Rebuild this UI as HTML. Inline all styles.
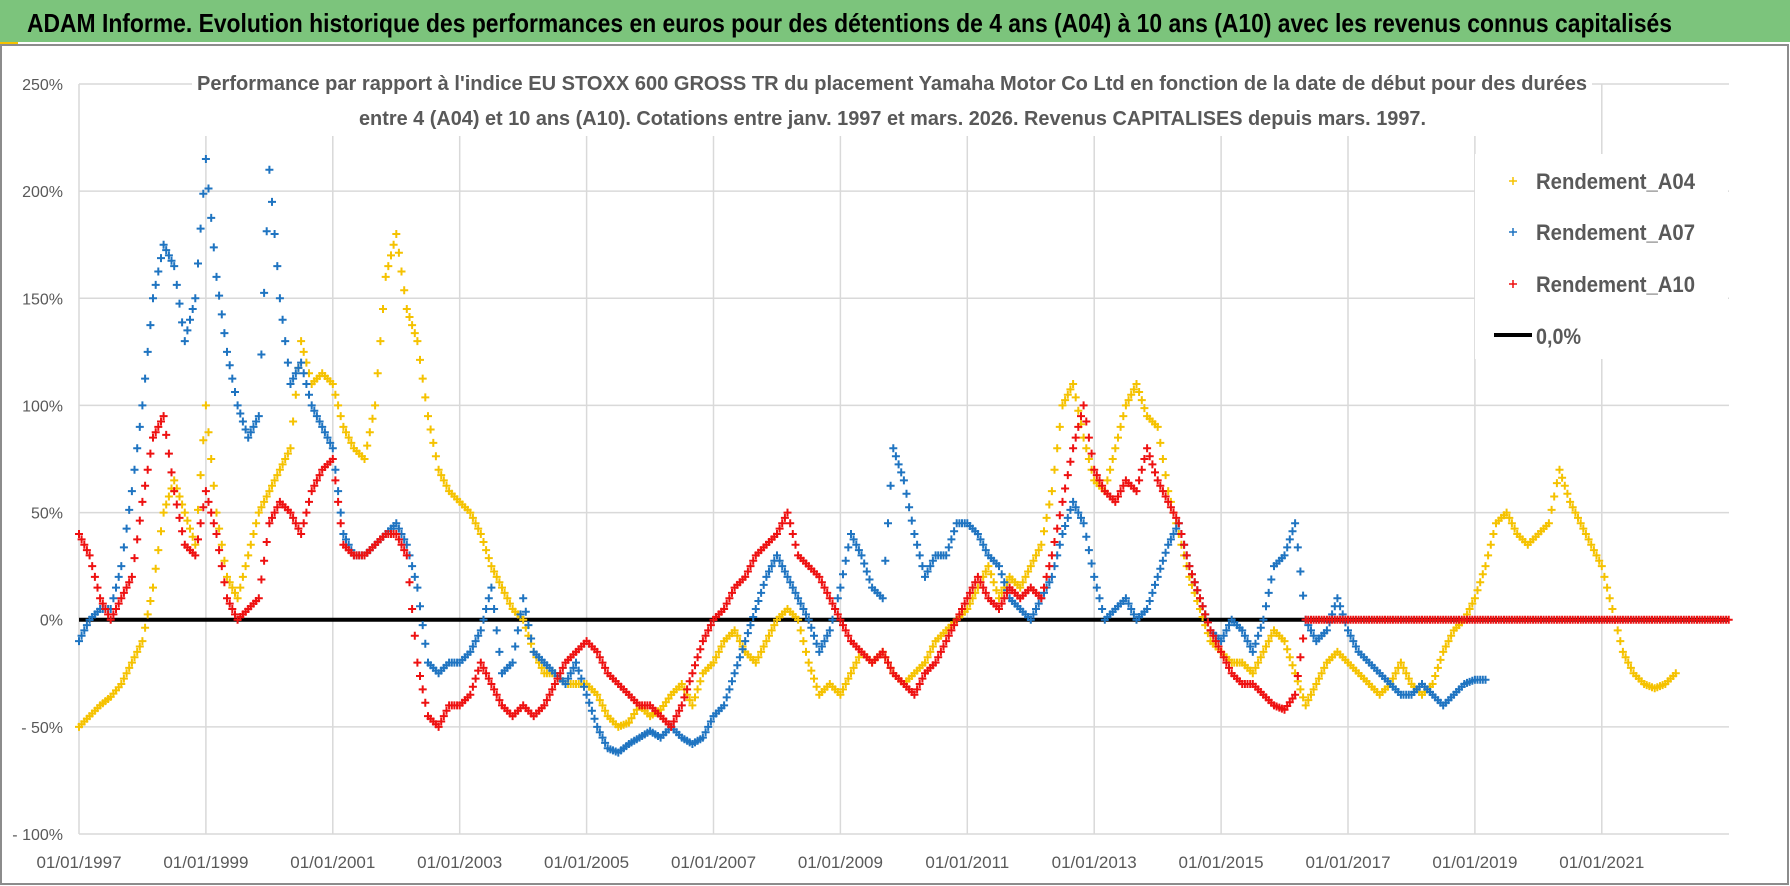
<!DOCTYPE html>
<html><head><meta charset="utf-8">
<style>
html,body{margin:0;padding:0;background:#fff;}
svg{display:block;font-family:"Liberation Sans Narrow","Liberation Sans",sans-serif;}
</style></head>
<body>
<svg id="chart" width="1790" height="886" viewBox="0 0 1790 886" xmlns="http://www.w3.org/2000/svg">
  <rect x="0" y="0" width="1790" height="886" fill="#ffffff"/>
  <rect x="0" y="0" width="1790" height="42" fill="#7cc47c"/>
  <rect x="0" y="42" width="18" height="3" fill="#f5c200"/>
  <text x="27" y="32" font-size="26" font-weight="bold" fill="#000" textLength="1645" lengthAdjust="spacingAndGlyphs">ADAM Informe. Evolution historique des performances en euros pour des détentions de 4 ans (A04) à 10 ans (A10) avec les revenus connus capitalisés</text>
  <rect x="1" y="45" width="1787" height="839" fill="none" stroke="#8c8c8c" stroke-width="2"/>
  <g id="grid"></g>
  <g id="yaxis"></g>
  <g id="xaxis"></g>
  <rect x="192" y="66" width="1400" height="70" fill="#fff"/>
  <text x="197" y="90" font-size="20" font-weight="bold" fill="#595959" textLength="1390" lengthAdjust="spacingAndGlyphs">Performance par rapport à l'indice EU STOXX 600 GROSS TR  du placement Yamaha Motor Co Ltd en fonction de la date de début pour des durées</text>
  <text x="359" y="125" font-size="20" font-weight="bold" fill="#595959" textLength="1067" lengthAdjust="spacingAndGlyphs">entre 4 (A04) et 10 ans (A10). Cotations entre janv. 1997 et mars. 2026. Revenus CAPITALISES depuis mars. 1997.</text>
  <g id="series"></g>
  <g>
    <rect x="1475" y="154" width="253" height="205" fill="#fff"/>
    <g>
      <path d="M1509 181h8M1513 177v8" stroke="#f5c200" stroke-width="1.5"/>
      <text x="1536" y="189" font-size="22" font-weight="bold" fill="#595959" textLength="159" lengthAdjust="spacingAndGlyphs">Rendement_A04</text>
    </g>
    <g>
      <path d="M1509 232h8M1513 228v8" stroke="#1f74c1" stroke-width="1.5"/>
      <text x="1536" y="240" font-size="22" font-weight="bold" fill="#595959" textLength="159" lengthAdjust="spacingAndGlyphs">Rendement_A07</text>
    </g>
    <g>
      <path d="M1509 284h8M1513 280v8" stroke="#ee1111" stroke-width="1.5"/>
      <text x="1536" y="292" font-size="22" font-weight="bold" fill="#595959" textLength="159" lengthAdjust="spacingAndGlyphs">Rendement_A10</text>
    </g>
    <g>
      <line x1="1494" y1="335" x2="1532" y2="335" stroke="#000" stroke-width="4"/>
      <text x="1536" y="344" font-size="22" font-weight="bold" fill="#595959" textLength="45" lengthAdjust="spacingAndGlyphs">0,0%</text>
    </g>
  </g>
</svg>
<script>
const NS = "http://www.w3.org/2000/svg";
const startYear = 1997;
const stepYears = 1/6;
const yTicks = [250, 200, 150, 100, 50, 0, -50, -100];
const yTickLabels = ["250%", "200%", "150%", "100%", "50%", "0%", "- 50%", "- 100%"];
const xTickYears = [1997, 1999, 2001, 2003, 2005, 2007, 2009, 2011, 2013, 2015, 2017, 2019, 2021];
const xTickLabels = ["01/01/1997","01/01/1999","01/01/2001","01/01/2003","01/01/2005","01/01/2007","01/01/2009","01/01/2011","01/01/2013","01/01/2015","01/01/2017","01/01/2019","01/01/2021"];
const rendementA04 = [
 -50,-45,-40,-36,-30,-20,
 -10,15,50,65,50,35,
 100,50,20,10,30,50,
 60,70,80,130,110,115,
 110,90,80,75,100,160,
 180,145,130,95,70,60,
 55,50,40,25,15,5,
 0,-15,-25,-25,-30,-30,
 -30,-35,-45,-50,-48,-40,
 -45,-42,-35,-30,-40,-25,
 -20,-10,-5,-15,-20,-10,
 0,5,0,-20,-35,-30,
 -35,-25,-15,-20,-15,-25,
 -30,-25,-20,-10,-5,0,
 5,15,25,10,20,15,
 25,35,60,100,110,85,
 65,60,80,100,110,95,
 90,60,40,20,5,-10,
 -15,-20,-20,-25,-15,-5,
 -10,-25,-40,-30,-20,-15,
 -20,-25,-30,-35,-30,-20,
 -30,-35,-30,-15,-5,0,
 10,25,45,50,40,35,
 40,45,70,55,45,35,
 25,5,-15,-25,-30,-32,
 -30,-25
];
const rendementA07 = [
 -10,0,5,5,25,60,
 100,150,175,165,130,150,
 215,160,125,100,85,95,
 210,150,110,120,100,90,
 80,40,30,30,35,40,
 45,35,15,-20,-25,-20,
 -20,-15,-5,15,-25,-20,
 10,-15,-20,-25,-30,-20,
 -35,-50,-60,-62,-58,-55,
 -52,-55,-50,-55,-58,-55,
 -45,-40,-25,-10,5,20,
 30,20,10,0,-15,-5,
 15,40,30,15,10,80,
 65,40,20,30,30,45,
 45,40,30,25,10,5,
 0,10,20,40,55,45,
 20,0,5,10,0,5,
 20,35,45,25,10,-5,
 -10,0,-5,-15,0,25,
 30,45,0,-10,-5,10,
 -5,-15,-20,-25,-30,-35,
 -35,-30,-35,-40,-35,-30,
 -28,-28
];
const rendementA10 = [
 40,30,10,0,10,20,
 55,85,95,60,35,30,
 60,40,10,0,5,10,
 45,55,50,40,60,70,
 75,35,30,30,35,40,
 40,30,-20,-45,-50,-40,
 -40,-35,-20,-30,-40,-45,
 -40,-45,-40,-30,-20,-15,
 -10,-15,-25,-30,-35,-40,
 -40,-45,-50,-40,-25,-10,
 0,5,15,20,30,35,
 40,50,30,25,20,10,
 0,-10,-15,-20,-15,-25,
 -30,-35,-25,-20,-10,0,
 10,20,10,5,15,10,
 15,10,30,55,80,100,
 70,60,55,65,60,80,
 65,55,45,25,10,-5,
 -15,-25,-30,-30,-35,-40,
 -42,-35,0,0,0,0,
 0,0,0,0,0,0,
 0,0,0,0,0,0,
 0,0,0,0,0,0,
 0,0,0,0,0,0,
 0,0,0,0,0,0,
 0,0,0,0,0,0,
 0
];

const plotL = 79, plotR = 1729, plotT = 84, plotB = 834;
const vMin = -100, vMax = 250;
const pxPerYear = 63.45;
function xScale(year){ return plotL + (year - startYear) * pxPerYear; }
function yScale(v){ return plotB - (v - vMin) / (vMax - vMin) * (plotB - plotT); }

const grid = document.getElementById('grid');
const yaxis = document.getElementById('yaxis');
const xaxis = document.getElementById('xaxis');
const series = document.getElementById('series');

yTicks.forEach((v, i) => {
  const y = yScale(v);
  const ln = document.createElementNS(NS, 'line');
  ln.setAttribute('x1', plotL); ln.setAttribute('x2', plotR);
  ln.setAttribute('y1', y); ln.setAttribute('y2', y);
  ln.setAttribute('stroke', '#d9d9d9'); ln.setAttribute('stroke-width', '1.5');
  
  
  grid.appendChild(ln);
  const t = document.createElementNS(NS, 'text');
  t.setAttribute('x', 63); t.setAttribute('y', y + 6);
  t.setAttribute('text-anchor', 'end');
  t.setAttribute('font-size', '16'); t.setAttribute('fill', '#595959');
  t.textContent = yTickLabels[i];
  
  
  yaxis.appendChild(t);
});
xTickYears.forEach((yr, i) => {
  const x = xScale(yr);
  const ln = document.createElementNS(NS, 'line');
  ln.setAttribute('x1', x); ln.setAttribute('x2', x);
  ln.setAttribute('y1', plotT); ln.setAttribute('y2', plotB);
  ln.setAttribute('stroke', '#d9d9d9'); ln.setAttribute('stroke-width', '1.5');
  
  
  grid.appendChild(ln);
  const t = document.createElementNS(NS, 'text');
  t.setAttribute('x', x); t.setAttribute('y', 868);
  t.setAttribute('text-anchor', 'middle');
  t.setAttribute('font-size', '17'); t.setAttribute('fill', '#595959');
  t.textContent = xTickLabels[i];
  
  
  xaxis.appendChild(t);
});

const zl = document.createElementNS(NS, 'line');
zl.setAttribute('x1', plotL); zl.setAttribute('x2', plotR);
zl.setAttribute('y1', yScale(0)); zl.setAttribute('y2', yScale(0));
zl.setAttribute('stroke', '#000'); zl.setAttribute('stroke-width', '4');


series.appendChild(zl);

function cross(x, y){
  return 'M' + (x-4).toFixed(1) + ' ' + y.toFixed(1) + 'h8M' + x.toFixed(1) + ' ' + (y-4).toFixed(1) + 'v8';
}
function drawSeries(vals, color, name){
  let d = '';
  vals.forEach((v, i) => {
    d += cross(xScale(startYear + i * stepYears), yScale(v));
    if (i < vals.length - 1) {
      const nv = vals[i+1];
      [0.25, 0.5, 0.75].forEach(f => {
        d += cross(xScale(startYear + (i+f) * stepYears), yScale(v + (nv - v) * f));
      });
    }
  });
  const p = document.createElementNS(NS, 'path');
  p.setAttribute('d', d);
  p.setAttribute('stroke', color); p.setAttribute('stroke-width', '2'); p.setAttribute('fill', 'none');
  
  
  series.appendChild(p);
}
drawSeries(rendementA04, '#f5c200', 'series-rendement-a04');
drawSeries(rendementA07, '#1f74c1', 'series-rendement-a07');
drawSeries(rendementA10, '#ee1111', 'series-rendement-a10');
</script>
</body></html>
